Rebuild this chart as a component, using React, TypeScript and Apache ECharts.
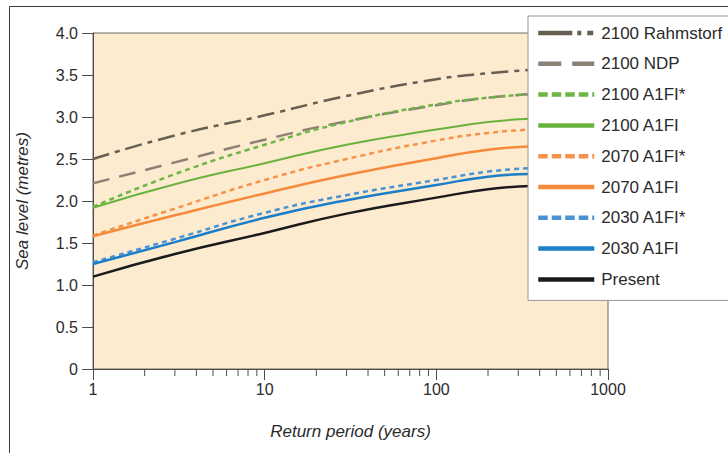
import React, { useEffect, useRef } from "react";
import * as echarts from "echarts";

const returnPeriods = [1, 3, 10, 30, 100, 200, 350];
const rahmstorf2100 = [2.5, 2.78, 3.02, 3.25, 3.45, 3.52, 3.56];
const ndp2100 = [2.21, 2.46, 2.73, 2.95, 3.14, 3.23, 3.27];
const a1fiStar2100 = [1.93, 2.32, 2.67, 2.94, 3.15, 3.23, 3.27];
const a1fi2100 = [1.92, 2.2, 2.45, 2.67, 2.85, 2.94, 2.98];
const a1fiStar2070 = [1.59, 1.91, 2.25, 2.5, 2.72, 2.81, 2.85];
const a1fi2070 = [1.58, 1.83, 2.09, 2.31, 2.51, 2.61, 2.65];
const a1fiStar2030 = [1.27, 1.55, 1.86, 2.07, 2.25, 2.35, 2.39];
const a1fi2030 = [1.25, 1.51, 1.8, 2.01, 2.19, 2.29, 2.32];
const present = [1.1, 1.37, 1.62, 1.85, 2.04, 2.14, 2.18];

const minorTickValues = [2, 3, 4, 5, 6, 7, 8, 9, 20, 30, 40, 50, 60, 70, 80, 90, 200, 300, 400, 500, 600, 700, 800, 900];

const seriesDefs = [
  { name: "2100 Rahmstorf", values: rahmstorf2100, color: "#665f52", width: 2.5, dash: [17, 6, 5, 6] as any, legendDash: [34, 5, 4, 6, 6, 12] as any },
  { name: "2100 NDP", values: ndp2100, color: "#8a8275", width: 2.5, dash: [17, 10] as any, legendDash: [23, 11, 22, 10] as any },
  { name: "2100 A1FI*", values: a1fiStar2100, color: "#6db544", width: 2.5, dash: [5, 4] as any, legendDash: [9.5, 4] as any },
  { name: "2100 A1FI", values: a1fi2100, color: "#6ab23e", width: 2, dash: "solid" as any, legendDash: "solid" as any },
  { name: "2070 A1FI*", values: a1fiStar2070, color: "#f7924a", width: 2.5, dash: [5, 4] as any, legendDash: [9.5, 4] as any },
  { name: "2070 A1FI", values: a1fi2070, color: "#f68a3c", width: 2.5, dash: "solid" as any, legendDash: "solid" as any },
  { name: "2030 A1FI*", values: a1fiStar2030, color: "#4a92d4", width: 2.5, dash: [5, 4] as any, legendDash: [9.5, 4] as any },
  { name: "2030 A1FI", values: a1fi2030, color: "#1b7ec8", width: 2.5, dash: "solid" as any, legendDash: "solid" as any },
  { name: "Present", values: present, color: "#1b1b1b", width: 2.5, dash: "solid" as any, legendDash: "solid" as any },
];

const FONT = "Liberation Sans, Arial, sans-serif";

export default function App() {
  const ref = useRef<HTMLDivElement>(null);
  useEffect(() => {
    if (!ref.current) return;
    const chart = echarts.init(ref.current, undefined, { renderer: "svg" });
    const lineSeries = seriesDefs.map((s) => ({
      name: s.name,
      type: "line",
      data: returnPeriods.map((p, i) => [p, s.values[i]]),
      smooth: true,
      symbol: "none",
      showSymbol: false,
      color: s.color,
      lineStyle: { color: s.color, width: s.width, type: s.dash },
      z: 3,
    }));
    chart.setOption({
      animation: false,
      backgroundColor: "#ffffff",
      textStyle: { fontFamily: FONT },
      graphic: [
        {
          type: "rect",
          shape: { x: 9.5, y: 6.5, width: 800, height: 500 },
          style: { fill: "none", stroke: "#3a3a3a", lineWidth: 1 },
          silent: true,
          z: 0,
        },
      ],
      grid: {
        left: 93,
        top: 33,
        right: 120,
        bottom: 84,
        show: true,
        backgroundColor: "#fdebcf",
        borderColor: "#6e6a64",
        borderWidth: 1,
      },
      legend: {
        data: seriesDefs.map((s) => ({
          name: s.name,
          lineStyle: { color: s.color, width: 4.5, type: s.legendDash },
        })),
        orient: "vertical",
        left: 528,
        top: 16,
        padding: [7, 30, 11, 8],
        itemWidth: 56,
        itemHeight: 20,
        itemGap: 10.8,
        backgroundColor: "#ffffff",
        borderColor: "#9a958e",
        borderWidth: 1,
        borderRadius: 0,
        selectedMode: false,
        itemStyle: { opacity: 0, borderWidth: 0 },
        textStyle: {
          fontFamily: FONT,
          fontSize: 17,
          color: "#2b2b2b",
          lineHeight: 20,
          padding: [0, 0, 0, 2],
        },
        z: 10,
      },
      xAxis: {
        type: "log",
        logBase: 10,
        min: 1,
        max: 1000,
        name: "Return period (years)",
        nameLocation: "middle",
        nameGap: 54,
        nameTextStyle: { fontFamily: FONT, fontSize: 17, fontStyle: "italic", color: "#2b2b2b" },
        axisLine: { show: true, lineStyle: { color: "#4d4d4d", width: 1 } },
        axisTick: { show: true, length: 11, lineStyle: { color: "#4d4d4d" } },
        axisLabel: {
          fontFamily: FONT,
          fontSize: 16,
          color: "#2b2b2b",
          margin: 12,
          formatter: (v: number) => String(Math.round(v)),
        },
        splitLine: { show: false },
      },
      yAxis: {
        type: "value",
        min: 0,
        max: 4,
        interval: 0.5,
        name: "Sea level (metres)",
        nameLocation: "middle",
        nameGap: 62,
        nameRotate: 90,
        nameTextStyle: { fontFamily: FONT, fontSize: 17, fontStyle: "italic", color: "#2b2b2b" },
        axisLine: { show: true, lineStyle: { color: "#4d4d4d", width: 1 } },
        axisTick: { show: true, length: 11, lineStyle: { color: "#4d4d4d" } },
        axisLabel: {
          fontFamily: FONT,
          fontSize: 16,
          color: "#2b2b2b",
          margin: 15,
          formatter: (v: number) => (v === 0 ? "0" : v.toFixed(1)),
        },
        splitLine: { show: false },
      },
      series: [
        ...lineSeries,
        {
          name: "minorTicks",
          type: "custom",
          silent: true,
          clip: false,
          data: minorTickValues.map((v) => [v, 0]),
          encode: { x: 0, y: 1 },
          renderItem: (params: any, api: any) => {
            const p = api.coord([api.value(0), 0]);
            return {
              type: "line",
              shape: { x1: p[0], y1: p[1], x2: p[0], y2: p[1] + 7 },
              style: { stroke: "#4d4d4d", lineWidth: 1 },
            };
          },
          z: 4,
        },
      ],
    });
    return () => chart.dispose();
  }, []);
  return (
    <div
      ref={ref}
      style={{ position: "fixed", left: 0, top: 0, width: 728, height: 453 }}
    />
  );
}
